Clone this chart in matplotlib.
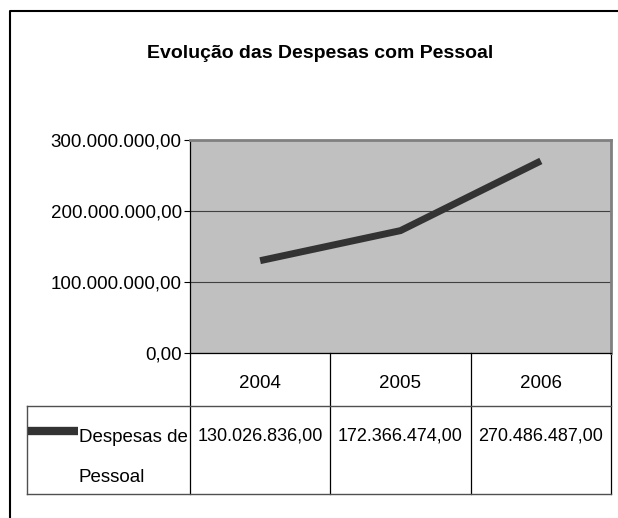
import matplotlib
matplotlib.use("Agg")
import matplotlib.pyplot as plt
from matplotlib.lines import Line2D
from matplotlib.transforms import blended_transform_factory

# Dados
anos = ["2004", "2005", "2006"]
despesas = [130026836.00, 172366474.00, 270486487.00]
serie_nome = "Despesas de\nPessoal"
titulo = "Evolução das Despesas com Pessoal"
y_ticks = [0, 100000000, 200000000, 300000000]


def fmt_br(v):
    s = f"{v:,.2f}"
    return s.replace(",", "#").replace(".", ",").replace("#", ".")


W, H = 618, 518
plt.rcParams["font.family"] = ["Liberation Sans", "DejaVu Sans"]
fig = plt.figure(figsize=(W / 100, H / 100), dpi=100)
fig.patch.set_facecolor("white")


def fx(px):
    return px / W


def fy(py):
    return 1 - py / H


# Moldura do gráfico (esquerda e topo)
fig.add_artist(Line2D([fx(10), fx(10), fx(W)], [fy(H), fy(10.5), fy(10.5)],
                      transform=fig.transFigure, color="black", lw=1.5))

fig.text(fx(320), fy(53), titulo, ha="center", va="center",
         fontsize=14, fontweight="bold")

# Área de plotagem
L, T, R, B = 190, 140, 611, 353
ax = fig.add_axes([fx(L), fy(B), fx(R) - fx(L), fy(T) - fy(B)])
ax.set_facecolor("#C0C0C0")
x = list(range(len(anos)))
ax.plot(x, despesas, color="#333333", lw=5, solid_capstyle="butt",
        solid_joinstyle="miter")
ax.set_xlim(-0.5, len(anos) - 0.5)
ax.set_ylim(0, 300000000)
ax.set_yticks(y_ticks)
ax.set_yticklabels([fmt_br(v) for v in y_ticks], fontsize=13.5)
ax.tick_params(axis="y", direction="out", length=4.5, width=0.8, pad=1.5)
ax.set_xticks([])
ax.yaxis.grid(True, color="#404040", lw=0.8)
ax.set_axisbelow(True)
for side in ("top", "right"):
    ax.spines[side].set_color("#808080")
    ax.spines[side].set_linewidth(2)
for side in ("left", "bottom"):
    ax.spines[side].set_color("black")
    ax.spines[side].set_linewidth(0.9)

# Tabela de dados abaixo do eixo de categorias
ph = B - T
def ya(py):
    return -(py - B) / ph

tr = blended_transform_factory(ax.transData, ax.transAxes)
row1_bottom, row2_bottom = 406, 494
left_cell = -0.5 - (L - 27) / ((R - L) / len(anos))

for k in range(len(anos) + 1):
    xb = k - 0.5
    ax.add_artist(Line2D([xb, xb], [0, ya(row2_bottom)], transform=tr,
                         color="black", lw=0.9, clip_on=False))
for py in (row1_bottom, row2_bottom):
    ax.add_artist(Line2D([left_cell, len(anos) - 0.5], [ya(py), ya(py)],
                         transform=tr, color="#505050", lw=1.0, clip_on=False))
ax.add_artist(Line2D([left_cell, left_cell], [ya(row1_bottom), ya(row2_bottom)],
                     transform=tr, color="#505050", lw=1.0, clip_on=False))

for xi, (ano, v) in enumerate(zip(anos, despesas)):
    ax.text(xi, ya(384), ano, transform=tr, ha="center", va="center",
            fontsize=13.5)
    ax.text(xi, ya(436), fmt_br(v), transform=tr, ha="center", va="center",
            fontsize=13)

# Chave da legenda
fig.add_artist(Line2D([fx(28), fx(78)], [fy(431), fy(431)],
                      transform=fig.transFigure, color="#333333", lw=6,
                      solid_capstyle="butt"))
fig.text(fx(79), fy(438), serie_nome.split("\n")[0], ha="left", va="center",
         fontsize=13.5)
fig.text(fx(79), fy(477), serie_nome.split("\n")[1], ha="left", va="center",
         fontsize=13.5)

fig.savefig("out.png", dpi=100)
